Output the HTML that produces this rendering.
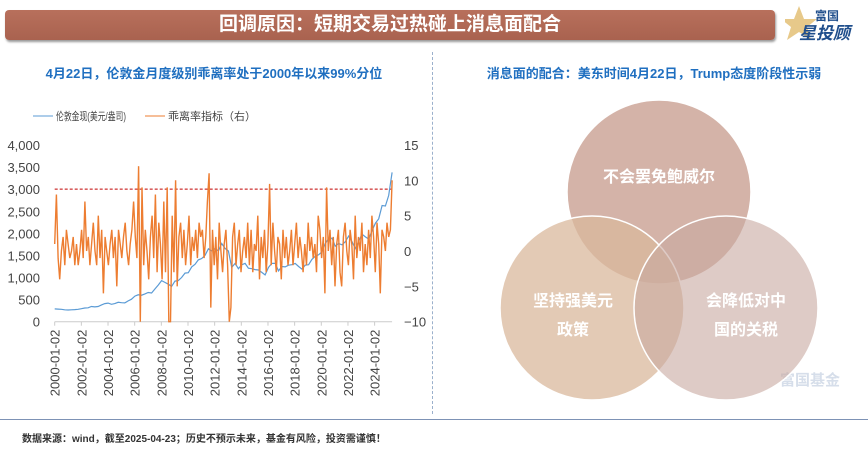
<!DOCTYPE html>
<html><head><meta charset="utf-8">
<style>
body{margin:0;width:868px;height:450px;background:#fff;overflow:hidden;position:relative;font-family:"Liberation Sans","Noto Sans CJK SC",sans-serif}
.abs{position:absolute}
</style></head>
<body>
<div class="abs" style="left:5px;top:10px;width:770px;height:30px;border-radius:4px;background:linear-gradient(#b8705c,#a9624f);box-shadow:1px 2px 2px #999"></div>
<div class="abs" style="left:5px;top:10px;width:770px;height:30px;line-height:30px;text-align:center;color:#fff;font-weight:bold;font-size:19px">回调原因：短期交易过热碰上消息面配合</div>
<div class="abs" style="left:785px;top:4px;width:80px;height:38px">
<svg width="80" height="38"><polygon points="14,2 19,15 32,15 22,23 26,36 14,28 2,36 6,23 -4,15 9,15" fill="#e7c98a"/><text x="30" y="16" font-size="12" font-weight="bold" fill="#1f4e8c" font-family="Liberation Sans,Noto Sans CJK SC,sans-serif">富国</text><text x="14" y="35" font-size="17" font-weight="bold" fill="#1f4e8c" font-style="italic" font-family="Liberation Sans,Noto Sans CJK SC,sans-serif">星投顾</text></svg></div>
<div class="abs" style="left:14px;top:63px;width:400px;text-align:center;color:#1f6fc0;font-weight:bold;font-size:13px">4月22日，伦敦金月度级别乖离率处于2000年以来99%分位</div>
<div class="abs" style="left:440px;top:63px;width:428px;text-align:center;color:#1f6fc0;font-weight:bold;font-size:13px">消息面的配合：美东时间4月22日，Trump态度阶段性示弱</div>
<div class="abs" style="left:432px;top:52px;height:362px;border-left:1px dashed #9bb0cc"></div>
<div class="abs" style="left:0;top:419px;width:868px;border-top:1px solid #7d92b5"></div>
<div class="abs" style="left:22px;top:430px;font-size:10px;color:#333;font-weight:bold">数据来源：wind，截至2025-04-23；历史不预示未来，基金有风险，投资需谨慎！</div>
<svg class="abs" style="left:0;top:0" width="432" height="418" id="chart"></svg>
<svg class="abs" style="left:440px;top:80px" width="428" height="338">
<text x="340" y="305" font-size="15" font-weight="bold" fill="#d6deea" font-family="Liberation Sans,Noto Sans CJK SC,sans-serif">富国基金</text>
<circle cx="219" cy="112" r="92" fill="#c9a092" fill-opacity="0.8" stroke="#fff" stroke-width="1.5"/>
<circle cx="152" cy="228" r="92" fill="#d9b89c" fill-opacity="0.75" stroke="#fff" stroke-width="1.5"/>
<circle cx="286" cy="228" r="92" fill="#c8a9a0" fill-opacity="0.6" stroke="#fff" stroke-width="1.5"/>
<g font-family="Liberation Sans,Noto Sans CJK SC,sans-serif" font-weight="bold" font-size="16" fill="#fff" text-anchor="middle">
<text x="219" y="102">不会罢免鲍威尔</text>
<text x="133" y="226">坚持强美元</text>
<text x="133" y="255">政策</text>
<text x="306" y="226">会降低对中</text>
<text x="306" y="255">国的关税</text>
</g></svg>
<script>
const goldQuarterly=[290,285,280,270,265,270,275,280,295,310,315,345,335,345,380,410,420,395,410,440,430,425,470,510,580,610,600,630,660,650,740,830,930,890,850,800,920,930,1000,1100,1110,1240,1300,1400,1430,1500,1650,1600,1660,1600,1770,1660,1600,1230,1320,1200,1290,1320,1210,1200,1180,1170,1115,1060,1230,1320,1320,1150,1250,1240,1280,1290,1320,1250,1190,1280,1290,1410,1480,1515,1580,1770,1880,1890,1710,1770,1740,1810,1940,1810,1660,1820,1980,1920,1870,2060,2230,2330,2630,2620,2860,3380];
const deviation=[1,8,-1,-4,0,2,-2,3, 1,-1,0,2,-2,1,-2,0, 3,-1,7,0,2,-2,1,4, 0,-2,5,-1,3,-6,2,0, -2,1,3,-1,2,-5,3,1, -1,2,4,0,-2,1,3,7, 2,-1,12,-10,9,-2,3,0, -4,2,5,-1,8,-3,4,1, -4,7,-3,9,-10,-10,5,-3, 10,-5,2,4,-1,3,-2,1, 5,-2,2,0,3,-1,4,2, 3,-1,2,7,11,-8,3,-2, 2,-4,4,0,-3,1,3,-2, -10,-8,2,4,-2,1,3,-3, 0,2,-1,4,-2,3,-3,1, 0,5,-4,2,-1,3,-3,1, 9.5,-2,4,0,-3,2,1,-4, 3,-1,2,-2,0,3,-2,1, 4,-1,2,0,-3,1,-2,4, 0,2,-1,1,-3,5,3,-1, 2,-6,9,0,3,-2,2,-5, 1,3,-3,-5,2,4,0,-2, 3,1,-4,5,-1,2,0,4, -3,1,-2,3,-1,5,2,-3, 4,1,-6,3,2,0,4,2, 3,10];
const leftTicks=[0,500,1000,1500,2000,2500,3000,3500,4000];
const rightTicks=[-10,-5,0,5,10,15];
const xTickYears=[2000,2002,2004,2006,2008,2010,2012,2014,2016,2018,2020,2022,2024];
const threshold=3000;
const svg=document.getElementById('chart');const NS='http://www.w3.org/2000/svg';
const X0=54.7,PXY=13.33,Y0=321.7,YT=145;
const xs=t=>X0+(t-2000)*PXY;
const yL=v=>Y0-(v/4000)*(Y0-YT);
const yR=v=>Y0-((v+10)/25)*(Y0-YT);
const T_END=2025.31;
function mk(tag,a){const e=document.createElementNS(NS,tag);for(const k in a)e.setAttribute(k,a[k]);svg.appendChild(e);return e;}
const F='Liberation Sans,Noto Sans CJK SC,sans-serif';
let l=mk('line',{x1:33,y1:116,x2:53,y2:116,stroke:'#5b9bd5','stroke-width':1});

let t=mk('text',{x:56,y:120,'font-size':11,fill:'#444','font-family':F,textLength:70,lengthAdjust:'spacingAndGlyphs'});t.textContent='伦敦金现(美元/盎司)';

l=mk('line',{x1:145,y1:116,x2:165,y2:116,stroke:'#ed7d31','stroke-width':1});

t=mk('text',{x:168,y:120,'font-size':11,fill:'#444','font-family':F});t.textContent='乖离率指标（右）';

leftTicks.forEach(v=>{const e=mk('text',{x:40,y:yL(v)+5,'font-size':13,fill:'#444','text-anchor':'end','font-family':F});e.textContent=v.toLocaleString('en-US');
});
rightTicks.forEach(v=>{const e=mk('text',{x:404,y:yR(v)+5,'font-size':13,fill:'#444','font-family':F});e.textContent=v<0?'−'+(-v):v;
});
const ax=mk('line',{x1:X0,y1:Y0,x2:xs(T_END),y2:Y0,stroke:'#ccc'});

xTickYears.forEach(yr=>{const x=xs(yr);const tk=mk('line',{x1:x,y1:Y0,x2:x,y2:Y0+4,stroke:'#ccc'});

const e=mk('text',{x:0,y:0,'font-size':13,fill:'#444','text-anchor':'end','font-family':F,transform:`translate(${x+5},${Y0+8}) rotate(-90)`});e.textContent=yr+'-01-02';
});
const dl=mk('line',{x1:X0,y1:yL(threshold),x2:xs(T_END),y2:yL(threshold),stroke:'#c00000','stroke-dasharray':'3,2','stroke-width':1});

const n1=goldQuarterly.length;
const gp=goldQuarterly.map((v,i)=>xs(2000+i*(T_END-2000)/(n1-1)).toFixed(1)+','+yL(v).toFixed(1)).join(' ');
const gl=mk('polyline',{points:gp,fill:'none',stroke:'#5b9bd5','stroke-width':1.2});

const n2=deviation.length;
const dp=deviation.map((v,i)=>xs(2000+i*(T_END-2000)/(n2-1)).toFixed(1)+','+yR(v).toFixed(1)).join(' ');
const ol=mk('polyline',{points:dp,fill:'none',stroke:'#ed7d31','stroke-width':1.4});

</script>
</body></html>
